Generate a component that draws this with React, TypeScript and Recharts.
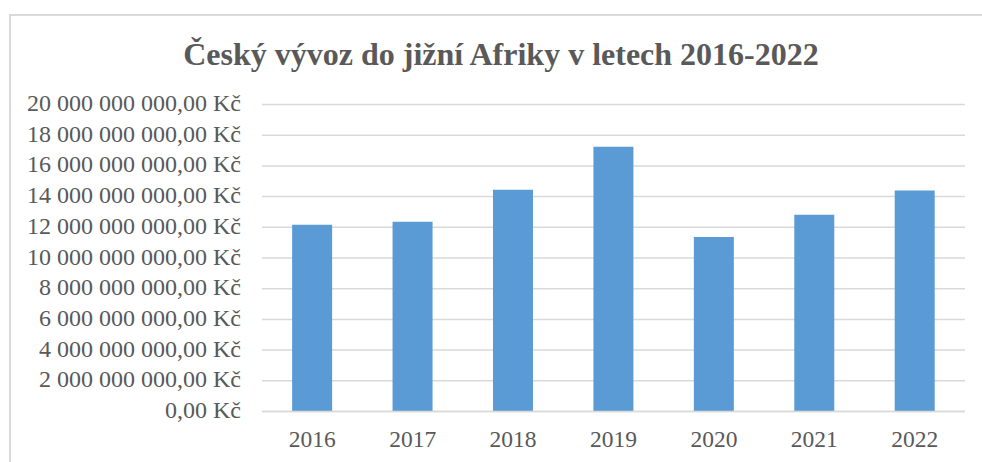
import React from "react"
import { BarChart, Bar, XAxis, YAxis, CartesianGrid } from "recharts"

const years = ["2016", "2017", "2018", "2019", "2020", "2021", "2022"]
const exportValues = [
  12.17e9, 12.36e9, 14.45e9, 17.24e9, 11.36e9, 12.82e9, 14.39e9,
]
const yTicks = [0, 2e9, 4e9, 6e9, 8e9, 10e9, 12e9, 14e9, 16e9, 18e9, 20e9]

const title = "Český vývoz do jižní Afriky v letech 2016-2022"

const TEXT = "#595959"
const FONT = "'Liberation Serif', 'Times New Roman', serif"

const data = years.map((year, i) => ({ year, value: exportValues[i] }))

// 20000000000 -> "20 000 000 000,00 Kč"
function formatCzk(n: number) {
  const digits = Math.round(n).toString()
  const groups: string[] = []
  for (let i = digits.length; i > 0; i -= 3) {
    groups.unshift(digits.slice(Math.max(0, i - 3), i))
  }
  return `${groups.join("\u00a0")},00\u00a0Kč`
}

function YTick(props: any) {
  const { x, y, payload } = props
  return (
    <text x={x} y={y + 6.5} textAnchor="end" fill={TEXT} fontSize={24} fontFamily={FONT}>
      {formatCzk(payload.value)}
    </text>
  )
}

function XTick(props: any) {
  const { x, y, payload } = props
  return (
    <text x={x} y={y + 33} textAnchor="middle" fill={TEXT} fontSize={23.5} fontFamily={FONT}>
      {payload.value}
    </text>
  )
}

export default function App() {
  return (
    <div
      style={{
        position: "absolute",
        left: 0,
        top: 0,
        width: 982,
        height: 462,
        overflow: "hidden",
        background: "#fff",
      }}
    >
      <div
        style={{
          position: "absolute",
          left: 9,
          top: 14,
          width: 1100,
          height: 600,
          borderTop: "2px solid #d9d9d9",
          borderLeft: "2px solid #d9d9d9",
        }}
      />
      <svg
        width={982}
        height={90}
        style={{ position: "absolute", left: 0, top: 0 }}
      >
        <text
          x={501}
          y={65}
          textAnchor="middle"
          fill={TEXT}
          fontSize={32}
          fontWeight="bold"
          fontFamily={FONT}
        >
          {title}
        </text>
      </svg>
      <div style={{ position: "absolute", left: 0, top: 0 }}>
        <BarChart
          width={982}
          height={462}
          data={data}
          margin={{ top: 104.5, right: 17, bottom: 10.5, left: 10 }}
          barCategoryGap="30%"
        >
          <CartesianGrid vertical={false} stroke="#d9d9d9" strokeWidth={1.5} />
          <XAxis
            dataKey="year"
            height={40}
            axisLine={{ stroke: "#d9d9d9", strokeWidth: 1.5 }}
            tickLine={false}
            tickSize={0}
            tick={<XTick />}
          />
          <YAxis
            width={252}
            domain={[0, 20e9]}
            ticks={yTicks}
            interval={0}
            axisLine={false}
            tickLine={false}
            tickSize={0}
            tickMargin={21}
            tick={<YTick />}
          />
          <Bar dataKey="value" fill="#5b9bd5" isAnimationActive={false} />
        </BarChart>
      </div>
    </div>
  )
}
